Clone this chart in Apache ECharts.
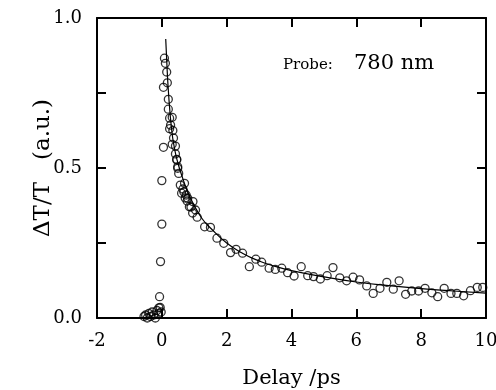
<!DOCTYPE html>
<html>
<head>
<meta charset="utf-8">
<script src="https://cdn.jsdelivr.net/npm/echarts@6/dist/echarts.min.js"></script>
<style>html,body{margin:0;padding:0;background:#fff;}#c{width:496px;height:390px;}</style>
</head>
<body>
<div id="c"></div>
<script>
// Measured data (open circles)
var dataX = [-0.55,-0.5,-0.45,-0.4,-0.35,-0.3,-0.25,-0.2,-0.15,-0.1,-0.05,-0.02,
  -0.09,-0.07,-0.04,0.0,0.0,0.05,0.05,
  0.08,0.11,0.15,0.17,0.2,0.2,0.24,0.32,0.27,0.34,0.24,0.36,0.32,0.42,0.42,0.46,0.49,0.46,0.49,0.52,0.57,0.7,0.61,0.65,0.68,0.72,0.75,0.78,0.8,0.9,0.95,0.96,0.85,1.04,1.09,
  1.32,1.5,1.7,1.91,2.12,2.29,2.49,2.7,2.9,3.08,3.31,3.5,3.7,3.88,4.08,4.3,4.5,4.68,4.89,5.1,5.28,5.49,5.7,5.9,6.1,6.32,6.52,6.73,6.94,7.14,7.32,7.52,7.71,7.92,8.12,8.33,8.51,8.71,8.92,9.1,9.31,9.52,9.73,9.9];
var dataY = [0.005,0.01,0.0,0.015,0.005,0.02,0.01,0.0,0.025,0.015,0.035,0.02,
  0.034,0.071,0.188,0.313,0.458,0.569,0.769,
  0.866,0.849,0.82,0.784,0.729,0.696,0.666,0.669,0.643,0.625,0.631,0.6,0.579,0.573,0.547,0.529,0.504,0.527,0.499,0.482,0.443,0.449,0.416,0.43,0.42,0.40,0.41,0.39,0.399,0.37,0.35,0.388,0.371,0.36,0.336,
  0.304,0.302,0.266,0.249,0.218,0.229,0.216,0.171,0.196,0.186,0.166,0.162,0.166,0.151,0.14,0.171,0.141,0.138,0.13,0.141,0.168,0.134,0.124,0.136,0.127,0.107,0.082,0.099,0.119,0.096,0.124,0.079,0.09,0.09,0.099,0.084,0.071,0.099,0.082,0.082,0.074,0.091,0.102,0.102];

// Fitted curve (solid line)
var fitX = [0.12,0.15,0.2,0.3,0.4,0.5,0.6,0.8,1.0,1.25,1.5,2.0,2.5,3.0,3.5,4.0,5.0,6.0,7.0,8.0,9.0,10.0];
var fitY = [0.93,0.86,0.76,0.63,0.56,0.515,0.48,0.42,0.375,0.33,0.30,0.25,0.215,0.19,0.172,0.158,0.137,0.12,0.108,0.098,0.09,0.083];

var yTickLabels = ['0.0','0.5','1.0'];

var scatterData = dataX.map(function(x,i){return [x,dataY[i]];});
var lineData = fitX.map(function(x,i){return [x,fitY[i]];});

var FONT = 'DejaVu Serif';
var chart = echarts.init(document.getElementById('c'), null, {renderer:'canvas'});
function axisLine(){ return {show:true, onZero:false, lineStyle:{color:'#000', width:2}}; }
function tick(){ return {show:true, inside:true, length:9, lineStyle:{color:'#000', width:2}}; }
chart.setOption({
  backgroundColor:'#fff',
  animation:false,
  grid:{left:97, right:10, top:18, bottom:72, outerBoundsMode:'none'},
  xAxis:[{
    type:'value', min:-2, max:10, interval:2, position:'bottom',
    axisLine:axisLine(), axisTick:tick(), splitLine:{show:false},
    axisLabel:{margin:14, fontFamily:FONT, fontSize:18, color:'#000'},
    name:'Delay /ps', nameLocation:'middle', nameGap:50, nameMoveOverlap:false,
    nameTextStyle:{fontFamily:FONT, fontSize:21, color:'#000'}
  },{
    type:'value', min:-2, max:10, interval:2, position:'top',
    axisLine:axisLine(), axisTick:tick(), splitLine:{show:false}, axisLabel:{show:false}
  }],
  yAxis:[{
    type:'value', min:0, max:1, interval:0.25, position:'left',
    axisLine:axisLine(), axisTick:tick(), splitLine:{show:false},
    axisLabel:{margin:15, fontFamily:FONT, fontSize:18, color:'#000',
      formatter:function(v){var s=v.toFixed(1); return (Math.abs(v*2-Math.round(v*2))<1e-6 && yTickLabels.indexOf(s)>=0) ? s : '';}},
    name:'ΔT/T   (a.u.)', nameLocation:'middle', nameGap:42, nameRotate:90, nameMoveOverlap:false,
    nameTextStyle:{fontFamily:FONT, fontSize:23, color:'#000'}
  },{
    type:'value', min:0, max:1, interval:0.25, position:'right',
    axisLine:axisLine(), axisTick:tick(), splitLine:{show:false}, axisLabel:{show:false}
  }],
  series:[{
    type:'line', data:lineData, smooth:true, showSymbol:false,
    lineStyle:{color:'#000', width:1.2}, z:2
  },{
    type:'scatter', data:scatterData, symbol:'circle', symbolSize:8,
    itemStyle:{color:'rgba(255,255,255,0)', borderColor:'#000', borderWidth:1.3}, z:3
  }],
  graphic:[
    {type:'text', left:283, top:58, style:{text:'Probe:', font:'15px "DejaVu Serif"', fill:'#000'}},
    {type:'text', left:354, top:53, style:{text:'780 nm', font:'21px "DejaVu Serif"', fill:'#000'}}
  ]
});
</script>
</body>
</html>
